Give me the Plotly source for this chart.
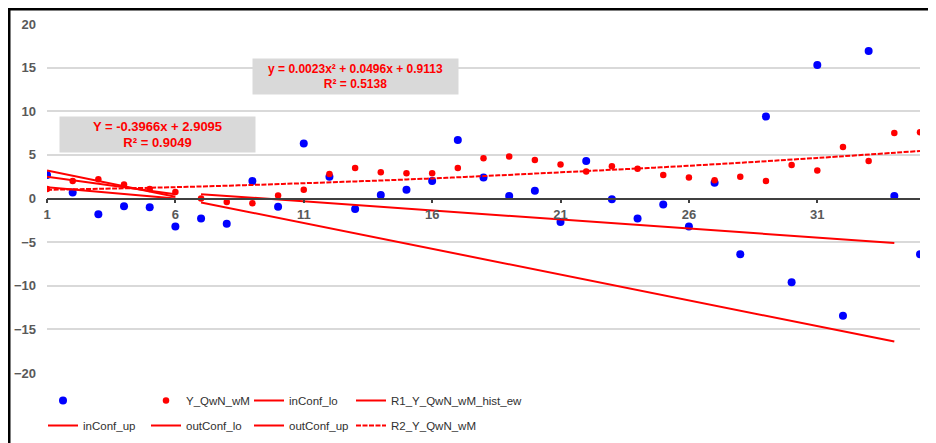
import plotly.graph_objects as go

# ---------------- data ----------------
categories = list(range(1, 36))
tick_labels = ["1", "6", "11", "16", "21", "26", "31"]
tick_positions = [1, 6, 11, 16, 21, 26, 31]

blue_values = [2.7, 0.7, -1.8, -0.9, -1.0, -3.2, -2.3, -2.9, 2.0, -0.95,
               6.3, 2.5, -1.2, 0.4, 1.0, 2.0, 6.7, 2.4, 0.3, 0.9,
               -2.7, 4.3, -0.1, -2.3, -0.7, -3.2, 1.8, -6.4, 9.4, -9.6,
               15.3, -13.45, 16.9, 0.3, -6.4]

y_qwn_wm = [1.1, 2.0, 2.2, 1.6, 1.1, 0.75, 0.0, -0.4, -0.55, 0.35,
            1.0, 2.8, 3.5, 3.0, 2.9, 2.9, 3.5, 4.6, 4.8, 4.4,
            3.9, 3.1, 3.7, 3.4, 2.7, 2.4, 2.1, 2.5, 2.0, 3.85,
            3.2, 5.9, 4.3, 7.5, 7.6]

hist_x = [1, 6]
inconf_up = [3.2, 0.2]
r1_hist = [2.5, 0.5]
inconf_lo = [1.3, 0.0]

out_x = [7, 34]
outconf_up = [0.5, -5.1]
outconf_lo = [-0.45, -16.4]

r2_x = [1, 6, 11, 16, 21, 26, 31, 35]
r2_values = [1.0, 1.3, 1.75, 2.3, 3.0, 3.75, 4.65, 5.45]

eq1 = "Y = -0.3966x + 2.9095<br>R² = 0.9049"
eq2 = "y = 0.0023x² + 0.0496x + 0.9113<br>R² = 0.5138"

# ---------------- figure ----------------
RED = "#ff0000"
BLUE = "#0000ff"
FONT = "Liberation Sans, Arial, sans-serif"

fig = go.Figure()

fig.add_trace(go.Scatter(x=categories, y=blue_values, mode="markers", name=" ",
                         marker=dict(color=BLUE, size=8), legend="legend"))
fig.add_trace(go.Scatter(x=categories, y=y_qwn_wm, mode="markers", name="Y_QwN_wM",
                         marker=dict(color=RED, size=6.5), legend="legend2"))
fig.add_trace(go.Scatter(x=hist_x, y=inconf_lo, mode="lines", name="inConf_lo",
                         line=dict(color=RED, width=2), legend="legend3"))
fig.add_trace(go.Scatter(x=hist_x, y=r1_hist, mode="lines", name="R1_Y_QwN_wM_hist_ew",
                         line=dict(color=RED, width=2), legend="legend4"))
fig.add_trace(go.Scatter(x=hist_x, y=inconf_up, mode="lines", name="inConf_up",
                         line=dict(color=RED, width=2), legend="legend5"))
fig.add_trace(go.Scatter(x=out_x, y=outconf_lo, mode="lines", name="outConf_lo",
                         line=dict(color=RED, width=2), legend="legend6"))
fig.add_trace(go.Scatter(x=out_x, y=outconf_up, mode="lines", name="outConf_up",
                         line=dict(color=RED, width=2), legend="legend7"))
fig.add_trace(go.Scatter(x=r2_x, y=r2_values, mode="lines", name="R2_Y_QwN_wM",
                         line=dict(color=RED, width=2, dash="5px,1.5px", shape="spline"),
                         legend="legend8"))

# page is shown with an 8px body offset; positions below are in screenshot pixels
OFF = 8
W, H = 936, 443
ml, mr, mt, mb = 47 - OFF, 936 - (920 - OFF), 24 - OFF, 443 - (373 - OFF)
pw = W - ml - mr
ph = H - mt - mb

def px_x(p):
    return (p - OFF - ml) / pw

def px_y(p):
    return (H - mb - (p - OFF)) / ph

LEG_FONT = dict(family=FONT, size=11.5, color="#303030")
col_x = [43, 146, 249, 351]
row_y = [386, 411]

legends = {}
for k in range(8):
    r, c = divmod(k, 4)
    key = "legend" if k == 0 else f"legend{k + 1}"
    legends[key] = dict(orientation="h", x=px_x(col_x[c]), y=px_y(row_y[r]),
                        xanchor="left", yanchor="top", font=LEG_FONT,
                        bgcolor="rgba(0,0,0,0)", itemwidth=30)

fig.update_layout(
    width=W, height=H,
    margin=dict(l=ml, r=mr, t=mt, b=mb, pad=0, autoexpand=False),
    paper_bgcolor="white", plot_bgcolor="white",
    font=dict(family=FONT, color="#404040"),
    showlegend=True,
    **legends,
)

fig.update_xaxes(range=[1, 35], tickmode="array", tickvals=tick_positions, ticktext=tick_labels,
                 showgrid=False, zeroline=False, showline=True, linecolor="#404040", linewidth=1.5,
                 anchor="free", position=0.5, ticks="outside", ticklen=4, tickwidth=1.5,
                 tickcolor="#404040", ticklabelstandoff=0,
                 tickfont=dict(family=FONT, size=13, color="#595959", weight="bold"))
fig.update_yaxes(range=[-20, 20], tickmode="array", tickvals=list(range(-20, 21, 5)),
                 showgrid=True, gridcolor="#d9d9d9", gridwidth=1.5, zeroline=False,
                 showline=False, ticks="", ticklabelstandoff=10,
                 tickfont=dict(family=FONT, size=13, color="#595959", weight="bold"))

# equation labels
fig.add_annotation(xref="paper", yref="paper", x=px_x(157.5), y=px_y(134), text=eq1,
                   showarrow=False, bgcolor="#d9d9d9", width=193, height=33,
                   font=dict(family=FONT, size=13, color=RED, weight="bold"),
                   xanchor="center", yanchor="middle")
fig.add_annotation(xref="paper", yref="paper", x=px_x(355.5), y=px_y(76), text=eq2,
                   showarrow=False, bgcolor="#d9d9d9", width=203, height=33,
                   font=dict(family=FONT, size=12, color=RED, weight="bold"),
                   xanchor="center", yanchor="middle")

# chart frame
fig.add_shape(type="rect", xref="paper", yref="paper",
              x0=px_x(9), x1=px_x(950), y0=px_y(470), y1=px_y(9),
              line=dict(color="black", width=3), layer="above")

fig.write_html("out.html")
